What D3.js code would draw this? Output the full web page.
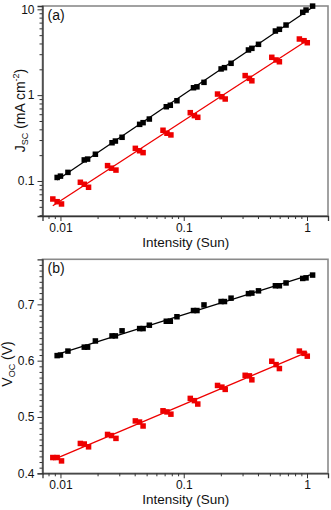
<!DOCTYPE html>
<html><head><meta charset="utf-8">
<script src="https://cdn.jsdelivr.net/npm/d3@7"></script>
<style>
html,body{margin:0;padding:0;background:#fff;}
svg{display:block;font-family:"Liberation Sans",Arial,sans-serif;}
</style></head>
<body>
<svg id="chart" width="331" height="510"></svg>
<script>
// ---- data ----
const blackIntensity = [0.0094, 0.0100, 0.0115, 0.0156, 0.0166, 0.0192, 0.0262, 0.0279, 0.0316, 0.0439, 0.0468, 0.0526, 0.0722, 0.0778, 0.0881, 0.120, 0.128, 0.146, 0.201, 0.214, 0.242, 0.335, 0.357, 0.404, 0.554, 0.597, 0.676, 0.923, 0.982, 1.11];
const redIntensity = [0.00867, 0.0094, 0.0102, 0.0145, 0.0156, 0.0169, 0.0241, 0.0259, 0.0282, 0.0405, 0.0438, 0.0468, 0.0679, 0.0731, 0.0787, 0.113, 0.122, 0.130, 0.188, 0.204, 0.217, 0.315, 0.341, 0.357, 0.518, 0.561, 0.597, 0.867, 0.946, 1.005];
const jscBlack = [0.110, 0.114, 0.126, 0.176, 0.180, 0.205, 0.279, 0.292, 0.323, 0.457, 0.478, 0.527, 0.733, 0.762, 0.861, 1.22, 1.25, 1.41, 2.02, 2.09, 2.35, 3.36, 3.51, 3.91, 5.59, 5.85, 6.56, 9.23, 9.81, 10.9];
const jscRed = [0.0617, 0.0574, 0.0540, 0.0966, 0.0916, 0.0845, 0.151, 0.141, 0.134, 0.240, 0.225, 0.214, 0.390, 0.360, 0.344, 0.625, 0.577, 0.552, 1.03, 0.959, 0.902, 1.69, 1.57, 1.47, 2.76, 2.57, 2.45, 4.51, 4.31, 4.08];
const vocBlack = [0.609, 0.610, 0.617, 0.624, 0.624, 0.635, 0.644, 0.644, 0.653, 0.657, 0.657, 0.663, 0.670, 0.670, 0.678, 0.689, 0.689, 0.699, 0.705, 0.705, 0.711, 0.719, 0.720, 0.724, 0.733, 0.733, 0.738, 0.746, 0.747, 0.752];
const vocRed = [0.428, 0.428, 0.422, 0.453, 0.452, 0.447, 0.469, 0.467, 0.462, 0.493, 0.491, 0.484, 0.511, 0.509, 0.505, 0.533, 0.529, 0.523, 0.556, 0.553, 0.549, 0.574, 0.573, 0.566, 0.599, 0.593, 0.586, 0.617, 0.613, 0.608];
const xTicks = [0.01, 0.1, 1];
const xTickLabels = ["0.01", "0.1", "1"];
const jscTicks = [0.1, 1, 10];
const jscTickLabels = ["0.1", "1", "10"];
const vocTicks = [0.4, 0.5, 0.6, 0.7];
const vocTickLabels = ["0.4", "0.5", "0.6", "0.7"];
const colors = {black: "#000000", red: "#ee0000"};

// ---- layout ----
const L = 42.5, R = 328;
const svg = d3.select("#chart");

function linreg(xs, ys){
  const n = xs.length, mx = d3.mean(xs), my = d3.mean(ys);
  let sxy = 0, sxx = 0;
  for (let i = 0; i < n; i++){ sxy += (xs[i]-mx)*(ys[i]-my); sxx += (xs[i]-mx)**2; }
  const b = sxy/sxx; return {a: my - b*mx, b};
}

function panel(opts){
  const {top, bottom, y, yTicks, yTickLabels, yMinor, series, label, yLabel, logY, titleX, titleY} = opts;
  const x = d3.scaleLog().domain([0.00715, 1.48]).range([L, R]);
  const g = svg.append("g");

  // frame
  g.append("rect").attr("x", L).attr("y", top).attr("width", R - L).attr("height", bottom - top)
    .attr("fill", "none").attr("stroke", "#8a8a8a").attr("stroke-width", 1.6);

  // x axis
  const xMinor = [];
  [0.001, 0.01, 0.1, 1].forEach(d => { for (let k = 2; k <= 9; k++){ const v = d*k; if (v > 0.00715 && v < 1.48) xMinor.push(v);} });
  const xAxis = d3.axisBottom(x).tickValues(xTicks).tickFormat((d,i) => xTickLabels[i]).tickSize(5).tickPadding(2.5);
  g.append("g").attr("transform", `translate(0,${bottom})`).call(xAxis);
  g.append("g").attr("transform", `translate(0,${bottom})`)
    .call(d3.axisBottom(x).tickValues(xMinor).tickFormat("").tickSize(3))
    .call(s => s.select(".domain").remove());

  // y axis
  const yAxis = d3.axisLeft(y).tickValues(yTicks).tickFormat((d,i) => yTickLabels[i]).tickSize(5).tickPadding(3);
  g.append("g").attr("transform", `translate(${L},0)`).call(yAxis);
  g.append("g").attr("transform", `translate(${L},0)`)
    .call(d3.axisLeft(y).tickValues(yMinor).tickFormat("").tickSize(3))
    .call(s => s.select(".domain").remove());

  g.selectAll(".domain").attr("stroke", "#333").attr("stroke-width", 1.3);
  g.selectAll(".tick line").attr("stroke", "#333");
  g.selectAll(".tick text").attr("font-size", 12).attr("fill", "#111")
    .attr("font-family", '"Liberation Sans",Arial,sans-serif');

  // series
  series.forEach(s => {
    const lx = s.xs.map(v => Math.log10(v));
    const ly = logY ? s.ys.map(v => Math.log10(v)) : s.ys;
    const fit = linreg(lx, ly);
    const x0 = d3.min(s.xs), x1 = d3.max(s.xs);
    const f = v => { const r = fit.a + fit.b*Math.log10(v); return logY ? Math.pow(10, r) : r; };
    g.append("line")
      .attr("x1", x(x0)).attr("y1", y(f(x0))).attr("x2", x(x1)).attr("y2", y(f(x1)))
      .attr("stroke", s.color).attr("stroke-width", 1.3);
    const sz = 5.5;
    g.selectAll(null).data(s.xs.map((v,i) => [v, s.ys[i]])).enter().append("rect")
      .attr("x", d => x(d[0]) - sz/2).attr("y", d => y(d[1]) - sz/2)
      .attr("width", sz).attr("height", sz).attr("fill", s.color);
  });

  // panel label
  g.append("text").attr("x", L + 5).attr("y", top + 14).attr("font-size", 14).attr("fill", "#111").text(label);

  // x title
  g.append("text").attr("x", (x(0.01)+x(1))/2 + 2).attr("y", bottom + 31).attr("text-anchor", "middle")
    .attr("font-size", 13.5).attr("fill", "#111").text("Intensity (Sun)");

  // y title
  const yt = g.append("text").attr("transform", `translate(${titleX},${titleY}) rotate(-90)`)
    .attr("text-anchor", "middle").attr("font-size", 14).attr("fill", "#111");
  yLabel(yt);
}

// Panel (a)
const yA = d3.scaleLog().domain([0.0391, 10.93]).range([216, 6]);
const jscMinor = [];
[0.01, 0.1, 1].forEach(d => { for (let k = 2; k <= 9; k++){ const v = d*k; if (v > 0.0391 && v < 10.93) jscMinor.push(v);} });
panel({top: 6, bottom: 216, y: yA, yTicks: jscTicks, yTickLabels: jscTickLabels, yMinor: jscMinor, logY: true,
  titleX: 24.5, titleY: 110.5,
  series: [{xs: blackIntensity, ys: jscBlack, color: colors.black}, {xs: redIntensity, ys: jscRed, color: colors.red}],
  label: "(a)",
  yLabel: t => {
    t.append("tspan").text("J");
    t.append("tspan").attr("font-size", 9).attr("dy", 3).text("SC");
    t.append("tspan").attr("dy", -3).text(" (mA cm");
    t.append("tspan").attr("font-size", 9).attr("dy", -6).text("-2");
    t.append("tspan").attr("dy", 6).text(")");
  }});

// Panel (b)
const yB = d3.scaleLinear().domain([0.4, 0.78]).range([473.3, 259.3]);
const vocMinor = d3.range(41, 78).filter(v => v % 10 !== 0).map(v => v/100);
panel({top: 259.3, bottom: 473.3, y: yB, yTicks: vocTicks, yTickLabels: vocTickLabels, yMinor: vocMinor, logY: false,
  titleX: 12, titleY: 364,
  series: [{xs: blackIntensity, ys: vocBlack, color: colors.black}, {xs: redIntensity, ys: vocRed, color: colors.red}],
  label: "(b)",
  yLabel: t => {
    t.append("tspan").text("V");
    t.append("tspan").attr("font-size", 9).attr("dy", 3).text("OC");
    t.append("tspan").attr("dy", -3).text(" (V)");
  }});
</script>
</body></html>
